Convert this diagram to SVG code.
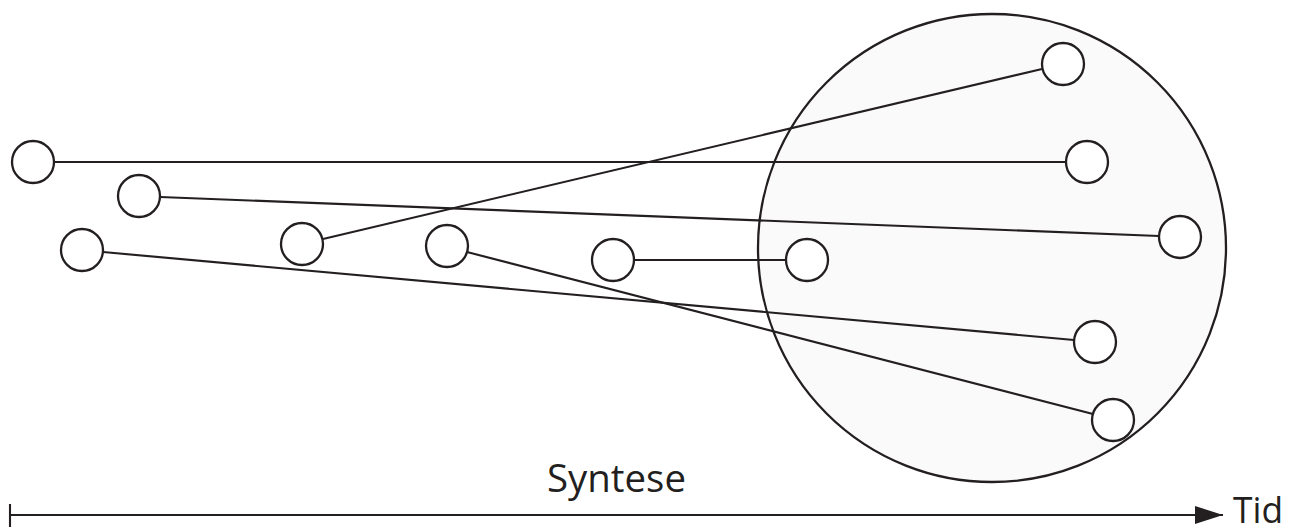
<svg xmlns="http://www.w3.org/2000/svg" width="1293" height="529" viewBox="0 0 1293 529">
<defs>
<style>
.n{fill:#fff;stroke:#231f20;stroke-width:2.3}
.e{stroke:#231f20;stroke-width:2.1;fill:none}
.t{font-family:"Open Sans","Noto Sans",sans-serif;fill:#231f20}
</style>
<marker id="ah" markerWidth="28" markerHeight="18" viewBox="0 0 28 18" refX="28" refY="9" markerUnits="userSpaceOnUse" orient="auto" style="overflow:visible">
<path d="M0,0 L28,9 L0,18 Z" fill="#231f20"/>
</marker>
</defs>
<rect width="1293" height="529" fill="#fff"/>
<g id="cluster"><circle cx="992" cy="248" r="234" fill="#fafafa" stroke="#231f20" stroke-width="2.3"/></g>
<g id="connectors">
<line class="e" x1="54" y1="162" x2="1066" y2="162"/>
<line class="e" x1="160" y1="197" x2="1159" y2="236"/>
<line class="e" x1="103" y1="252" x2="1074" y2="340"/>
<line class="e" x1="323" y1="239" x2="1042" y2="69"/>
<line class="e" x1="467" y1="252" x2="1093" y2="414"/>
<line class="e" x1="634" y1="260" x2="786" y2="260"/>
</g>
<g id="n1"><circle class="n" cx="33" cy="162" r="21"/></g>
<g id="n2"><circle class="n" cx="139" cy="196" r="21"/></g>
<g id="n3"><circle class="n" cx="82" cy="250" r="21"/></g>
<g id="n4"><circle class="n" cx="302" cy="244" r="21"/></g>
<g id="n5"><circle class="n" cx="447" cy="246" r="21"/></g>
<g id="n6"><circle class="n" cx="613" cy="260" r="21"/></g>
<g id="n7"><circle class="n" cx="807" cy="260" r="21"/></g>
<g id="n8"><circle class="n" cx="1063" cy="64" r="21"/></g>
<g id="n9"><circle class="n" cx="1087" cy="162" r="21"/></g>
<g id="n10"><circle class="n" cx="1180" cy="237" r="21"/></g>
<g id="n11"><circle class="n" cx="1095" cy="342" r="21"/></g>
<g id="n12"><circle class="n" cx="1113" cy="420" r="21"/></g>
<g id="axis">
<line class="e" x1="10" y1="515" x2="1223" y2="515" marker-end="url(#ah)"/>
<line class="e" x1="10" y1="504" x2="10" y2="527" stroke-width="2.5"/>
<text class="t" x="547" y="492" font-size="39" textLength="139" lengthAdjust="spacingAndGlyphs">Syntese</text>
<text class="t" x="1233" y="523" font-size="36" textLength="50" lengthAdjust="spacingAndGlyphs">Tid</text>
</g>
</svg>
